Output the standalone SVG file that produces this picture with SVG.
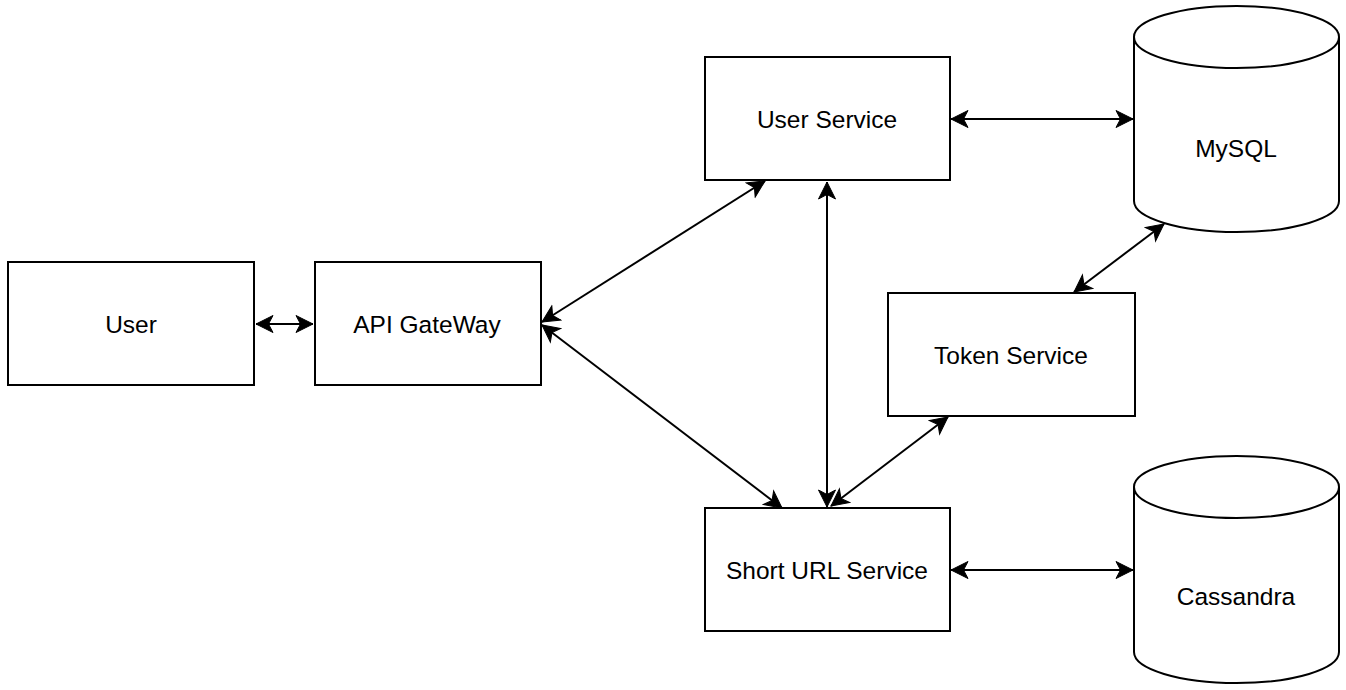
<svg xmlns="http://www.w3.org/2000/svg" width="1346" height="690" viewBox="0 0 1346 690">
<style>
.box{fill:#fff;stroke:#000;stroke-width:2}
.lbl{font-family:"Liberation Sans",Arial,sans-serif;font-size:24.5px;fill:#000;text-anchor:middle;dominant-baseline:central}
.edge{fill:none;stroke:#000;stroke-width:2}
</style>
<defs>
<marker id="ah" markerUnits="userSpaceOnUse" markerWidth="20" markerHeight="20" viewBox="-18 -10 20 20" refX="0" refY="0" orient="auto-start-reverse">
<path d="M0,0 L-17,-8.5 L-12.5,0 L-17,8.5 Z" fill="#000" stroke="#000" stroke-width="1"/>
</marker>
</defs>
<rect width="1346" height="690" fill="#fff"/>
<g id="connectors">
<line class="edge" x1="256" y1="324" x2="313" y2="324" marker-start="url(#ah)" marker-end="url(#ah)"/>
<line class="edge" x1="542" y1="322" x2="765" y2="181" marker-start="url(#ah)" marker-end="url(#ah)"/>
<line class="edge" x1="542" y1="325" x2="782" y2="508" marker-start="url(#ah)" marker-end="url(#ah)"/>
<line class="edge" x1="827" y1="182" x2="827" y2="507" marker-start="url(#ah)" marker-end="url(#ah)"/>
<line class="edge" x1="948" y1="417" x2="831" y2="506" marker-start="url(#ah)" marker-end="url(#ah)"/>
<line class="edge" x1="1074" y1="292" x2="1164" y2="224" marker-start="url(#ah)" marker-end="url(#ah)"/>
<line class="edge" x1="951" y1="119" x2="1133" y2="119" marker-start="url(#ah)" marker-end="url(#ah)"/>
<line class="edge" x1="951" y1="570" x2="1133" y2="570" marker-start="url(#ah)" marker-end="url(#ah)"/>
</g>
<g id="user"><rect class="box" x="8" y="262" width="246" height="123"/><text class="lbl" x="131" y="324">User</text></g>
<g id="api-gateway"><rect class="box" x="315" y="262" width="226" height="123"/><text class="lbl" x="427" y="324">API GateWay</text></g>
<g id="user-service"><rect class="box" x="705" y="57" width="245" height="123"/><text class="lbl" x="827" y="119">User Service</text></g>
<g id="short-url-service"><rect class="box" x="705" y="508" width="245" height="123"/><text class="lbl" x="827" y="570">Short URL Service</text></g>
<g id="token-service"><rect class="box" x="888" y="293" width="247" height="123"/><text class="lbl" x="1011" y="355">Token Service</text></g>
<g id="mysql">
<path class="box" d="M1134,37 A102.5,31 0 0 1 1339,37 L1339,201 A102.5,31 0 0 1 1134,201 Z"/>
<path class="edge" d="M1134,37 A102.5,31 0 0 0 1339,37"/>
<text class="lbl" x="1236" y="148">MySQL</text>
</g>
<g id="cassandra">
<path class="box" d="M1134,487 A102.5,31 0 0 1 1339,487 L1339,652 A102.5,31 0 0 1 1134,652 Z"/>
<path class="edge" d="M1134,487 A102.5,31 0 0 0 1339,487"/>
<text class="lbl" x="1236" y="596">Cassandra</text>
</g>
</svg>
